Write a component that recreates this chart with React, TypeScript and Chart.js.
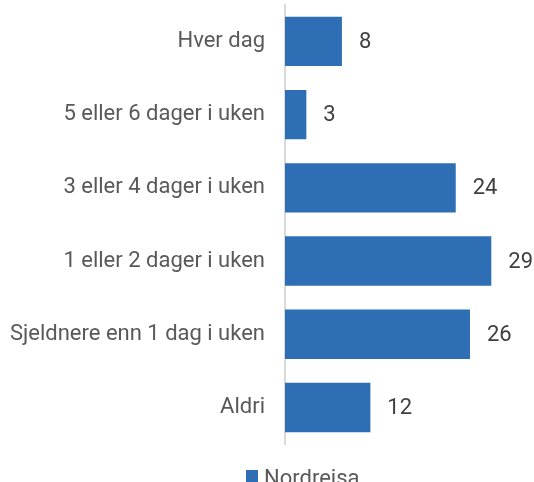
import React, { useEffect, useRef } from "react";
import { Chart, registerables } from "chart.js";

Chart.register(...registerables);

const categories = [
  "Hver dag",
  "5 eller 6 dager i uken",
  "3 eller 4 dager i uken",
  "1 eller 2 dager i uken",
  "Sjeldnere enn 1 dag i uken",
  "Aldri",
];
const seriesName = "Nordreisa";
const values = [8, 3, 24, 29, 26, 12];

const BAR_COLOR = "#2E6EB4";
const FONT = "Roboto, 'Noto Sans', sans-serif";
const FONT_SIZE = 22;

const valueLabels = {
  id: "valueLabels",
  afterDatasetsDraw(chart: any) {
    const ctx = chart.ctx;
    const meta = chart.getDatasetMeta(0);
    ctx.save();
    ctx.font = `${FONT_SIZE}px ${FONT}`;
    ctx.fillStyle = "#404040";
    ctx.textAlign = "left";
    ctx.textBaseline = "middle";
    meta.data.forEach((bar: any, i: number) => {
      ctx.fillText(String(values[i]), bar.x + 17, bar.y + 1);
    });
    ctx.restore();
  },
};

const customLegend = {
  id: "customLegend",
  afterDraw(chart: any) {
    const ctx = chart.ctx;
    ctx.save();
    ctx.fillStyle = BAR_COLOR;
    ctx.fillRect(246, 470, 12, 12);
    ctx.font = `${FONT_SIZE}px ${FONT}`;
    ctx.fillStyle = "#595959";
    ctx.textAlign = "left";
    ctx.textBaseline = "alphabetic";
    ctx.fillText(seriesName, 264, 485);
    ctx.restore();
  },
};

export default function App() {
  const ref = useRef<HTMLCanvasElement | null>(null);
  useEffect(() => {
    if (!ref.current) return;
    const chart = new Chart(ref.current, {
      type: "bar",
      data: {
        labels: categories,
        datasets: [
          {
            label: seriesName,
            data: values,
            backgroundColor: BAR_COLOR,
            borderWidth: 0,
            barPercentage: 0.673,
            categoryPercentage: 1,
          },
        ],
      },
      options: {
        indexAxis: "y",
        animation: false,
        responsive: false,
        layout: { padding: { top: 4.7, bottom: 37.9, left: 0, right: 0 } },
        plugins: {
          legend: { display: false },
          tooltip: { enabled: false },
        },
        scales: {
          x: {
            display: false,
            min: 0,
            max: 35,
          },
          y: {
            afterFit: (s: any) => {
              s.width = 285;
              s.paddingTop = 0;
              s.paddingBottom = 0;
            },
            grid: { display: false, drawTicks: false },
            border: { display: true, color: "#D9D9D9", width: 2 },
            ticks: {
              padding: 20,
              color: "#595959",
              font: { family: FONT, size: FONT_SIZE },
            },
          },
        },
      },
      plugins: [valueLabels, customLegend],
    });
    return () => chart.destroy();
  }, []);
  return (
    <div
      style={{
        position: "absolute",
        left: 0,
        top: 0,
        width: 534,
        height: 482,
        overflow: "hidden",
        background: "#fff",
      }}
    >
      <canvas ref={ref} width={534} height={482} />
    </div>
  );
}
